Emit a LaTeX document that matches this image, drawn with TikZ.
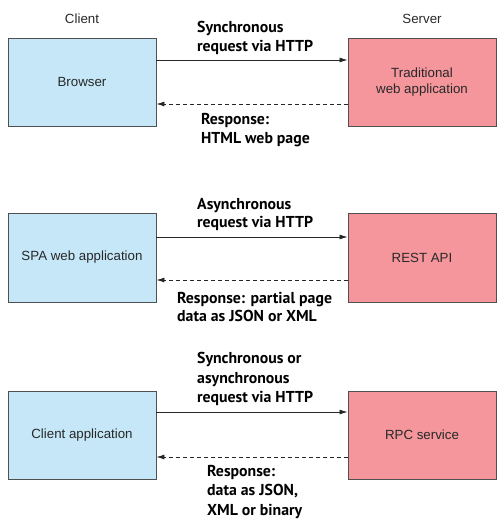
\documentclass[tikz,border=0pt]{standalone}
\usepackage{fontspec}
\setmainfont{Liberation Sans}
\newfontfamily\labfont{PT Sans}
\usetikzlibrary{arrows.meta}
\definecolor{cblue}{RGB}{197,231,248}
\definecolor{cpink}{RGB}{244,150,155}
\definecolor{cedge}{RGB}{80,80,80}
\definecolor{ctext}{RGB}{40,40,40}
\tikzset{
  clientbox/.style={draw=cedge, line width=0.9pt, fill=cblue, minimum width=148pt, minimum height=88pt, inner sep=0pt, font=\fontsize{13.3}{16}\selectfont, text=ctext, align=center},
  serverbox/.style={draw=cedge, line width=0.9pt, fill=cpink, minimum width=148pt, minimum height=88pt, inner sep=0pt, font=\fontsize{13.3}{16}\selectfont, text=ctext, align=center},
  head/.style={font=\fontsize{13.3}{16}\selectfont, text=ctext},
  lab/.style={font=\labfont\bfseries\fontsize{15.8}{19.5}\selectfont, text=black, align=left, inner sep=0pt},
  req/.style={draw=black!85, line width=0.8pt, -{Latex[length=8pt,width=5pt]}},
  resp/.style={draw=black!85, line width=0.8pt, dash pattern=on 4pt off 3pt, -{Latex[length=8pt,width=5pt]}}
}
\begin{document}
\begin{tikzpicture}[x=1pt,y=-1pt]
\useasboundingbox (0,0) rectangle (502,529);
\node[head] (hc) at (82,19) {Client};
\node[head] (hs) at (422,19) {Server};
% row 1
\node[clientbox] (c1) at (82,82) {Browser};
\node[serverbox] (s1) at (422,82) {Traditional\\web application};
\coordinate (y1a) at (0,60);
\coordinate (y1b) at (0,104);
\draw[req] (c1.east |- y1a) -- (s1.west |- y1a);
\draw[resp] (s1.west |- y1b) -- (c1.east |- y1b);
\node[lab, anchor=west] (l1a) at (197,38) {Synchronous\\request via HTTP};
\node[lab, anchor=west] (l1b) at (201,130) {Response:\\HTML web page};
% row 2
\node[clientbox, minimum height=89pt] (c2) at (82,257.5) {SPA web application};
\node[serverbox, minimum height=89pt] (s2) at (422,257.5) {REST API};
\coordinate (y2a) at (0,237);
\coordinate (y2b) at (0,280);
\draw[req] (c2.east |- y2a) -- (s2.west |- y2a);
\draw[resp] (s2.west |- y2b) -- (c2.east |- y2b);
\node[lab, anchor=west, font=\labfont\bfseries\fontsize{15.8}{18}\selectfont] (l2a) at (197,215) {Asynchronous\\request via HTTP};
\node[lab, anchor=west, font=\labfont\bfseries\fontsize{15.8}{18}\selectfont] (l2b) at (177,306.5) {Response: partial page\\data as JSON or XML};
% row 3
\node[clientbox] (c3) at (82,435) {Client application};
\node[serverbox] (s3) at (422,435) {RPC service};
\coordinate (y3a) at (0,412);
\coordinate (y3b) at (0,457);
\draw[req] (c3.east |- y3a) -- (s3.west |- y3a);
\draw[resp] (s3.west |- y3b) -- (c3.east |- y3b);
\node[lab, anchor=west] (l3a) at (197,379) {Synchronous or\\asynchronous\\request via HTTP};
\node[lab, anchor=west] (l3b) at (207,492) {Response:\\data as JSON,\\XML or binary};
\end{tikzpicture}
\end{document}
